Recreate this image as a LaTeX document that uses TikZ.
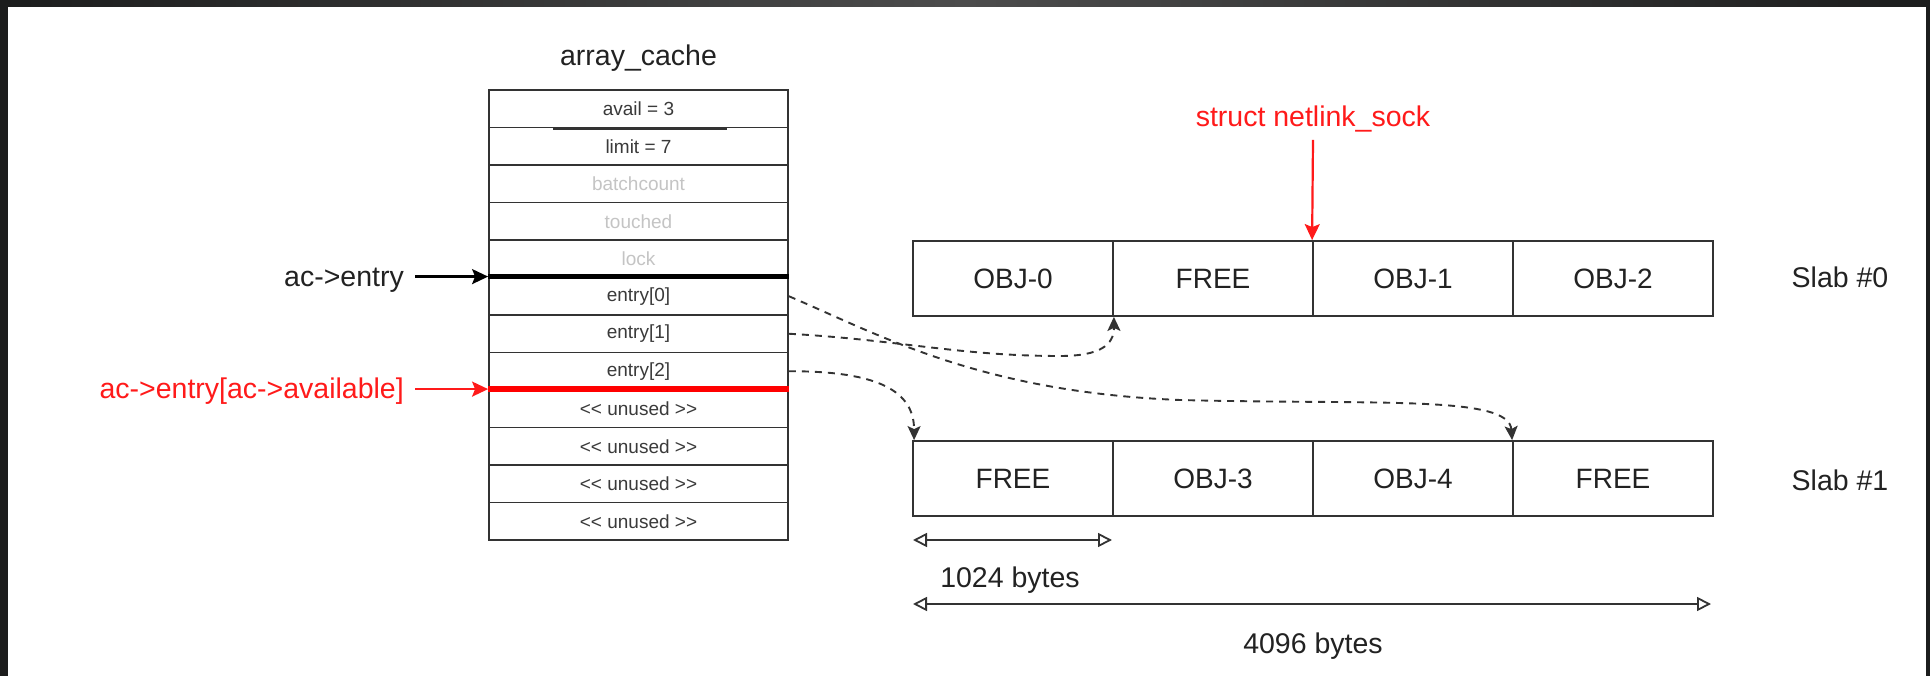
\documentclass[tikz,border=0pt]{standalone}
\usepackage{fontspec}
\setmainfont{Liberation Sans}[Ligatures=TeXOff]
\usetikzlibrary{arrows.meta,calc}
\definecolor{ink}{HTML}{222222}
\definecolor{cellline}{HTML}{333333}
\definecolor{lightt}{HTML}{C4C4C4}
\definecolor{midt}{HTML}{3A3A3A}
\definecolor{redc}{HTML}{FF1A1A}
\definecolor{frameA}{HTML}{1C1D1D}
\definecolor{frameB}{HTML}{4C4C4C}
\newcommand{\unusedtxt}{<\kern0pt<\kern0pt{} unused >\kern0pt>}
\tikzset{
  cell/.style={draw=cellline, line width=1.8pt, minimum width=299pt, minimum height=37.5pt,
    inner sep=0pt, font=\fontsize{19}{22}\selectfont, text=midt},
  slot/.style={draw=cellline, line width=1.8pt, minimum width=200pt, minimum height=75pt,
    inner sep=0pt, font=\fontsize{28}{32}\selectfont, text=ink},
  lbl/.style={font=\fontsize{28.5}{32}\selectfont, text=ink, inner sep=0pt},
  ptr/.style={-{Stealth[length=16pt,width=15pt,inset=3pt]}, line width=2.2pt},
  link/.style={draw=cellline, line width=1.9pt, dash pattern=on 7pt off 6pt,
    -{Stealth[length=14pt,width=13pt,inset=3pt]}},
  dim/.style={draw=cellline, line width=1.8pt,
    {Triangle[open,length=14pt,width=14pt]}-{Triangle[open,length=14pt,width=14pt]}}
}
\begin{document}
\begin{tikzpicture}[x=1pt,y=-1pt]
\useasboundingbox (0,0) rectangle (1930,676);
\fill[white] (0,0) rectangle (1930,676);
\shade[left color=frameA, right color=frameA, middle color=frameB] (0,0) rectangle (1930,7);
\fill[frameA] (0,0) rectangle (8,676);
\fill[frameA] (1926,0) rectangle (1930,676);

% array_cache table
\node[lbl, anchor=base] (title) at (638.5,66) {array\_cache};
\node[cell] (r1)  at (638.5,108.75) {avail = 3};
\node[cell] (r2)  at (638.5,146.25) {limit = 7};
\node[cell, text=lightt] (r3)  at (638.5,183.75) {batchcount};
\node[cell, text=lightt] (r4)  at (638.5,221.25) {touched};
\node[cell, text=lightt] (r5)  at (638.5,258.75) {lock};
\node[cell] (r6)  at (638.5,296.25) {entry[0]};
\node[cell] (r7)  at (638.5,333.75) {entry[1]};
\node[cell] (r8)  at (638.5,371.25) {entry[2]};
\node[cell] (r9)  at (638.5,408.75) {\unusedtxt};
\node[cell] (r10) at (638.5,446.25) {\unusedtxt};
\node[cell] (r11) at (638.5,483.75) {\unusedtxt};
\node[cell] (r12) at (638.5,521.25) {\unusedtxt};
\draw[cellline, line width=3.2pt] ($(r1.south)+(-86,0)$) -- ($(r1.south)+(88,0)$);
\draw[black, line width=5pt] (r6.north west) -- (r6.north east);
\draw[red, line width=5.5pt] (r9.north west) -- (r9.north east);

% pointers into the table
\node[lbl, anchor=base east] (acent) at (404,287) {ac->entry};
\node[lbl, anchor=base east, text=redc] (acav) at (404,398) {ac->entry[ac->available]};
\coordinate (p1) at ($(acent.east)+(11,0)$);
\coordinate (p2) at ($(acav.east)+(11,0)$);
\draw[ptr, black] (p1 |- r6.north west) -- (r6.north west);
\draw[ptr, redc] (p2 |- r9.north west) -- (r9.north west);

% slabs
\node[slot] (s0a) at (1013,278.5) {OBJ-0};
\node[slot] (s0b) at (1213,278.5) {FREE};
\node[slot] (s0c) at (1413,278.5) {OBJ-1};
\node[slot] (s0d) at (1613,278.5) {OBJ-2};
\node[slot] (s1a) at (1013,478.5) {FREE};
\node[slot] (s1b) at (1213,478.5) {OBJ-3};
\node[slot] (s1c) at (1413,478.5) {OBJ-4};
\node[slot] (s1d) at (1613,478.5) {FREE};
\node[lbl, anchor=base] (slab0) at (1840,288) {Slab \#0};
\node[lbl, anchor=base] (slab1) at (1840,490) {Slab \#1};

\node[lbl, anchor=base, text=redc] (sock) at (1313,127) {struct netlink\_sock};
\draw[ptr, redc] ($(sock.south)+(0,7)$) -- (s0c.north west);

% entry links
\draw[link] (r6.east) .. controls (880,335) and (980,392) .. (1180,400)
  .. controls (1380,405) and (1509,395) .. (s1d.north west);
\draw[link] (r7.east) .. controls (900,340) and (960,356) .. (1060,356)
  .. controls (1100,356) and (1114,345) .. (s0a.south east);
\draw[link] (r8.east) .. controls (880,371) and (914,392) .. ($(s1a.north west)+(2,0)$);

% dimensions
\coordinate (d1a) at (913,540);
\coordinate (d1b) at (1112,540);
\coordinate (d2a) at (913,604);
\coordinate (d2b) at (1711,604);
\draw[dim] (d1a) -- (d1b);
\draw[dim] (d2a) -- (d2b);
\node[lbl, anchor=base] (kb1) at (1010,587) {1024 bytes};
\node[lbl, anchor=base] (kb4) at (1313,653) {4096 bytes};
\end{tikzpicture}
\end{document}
